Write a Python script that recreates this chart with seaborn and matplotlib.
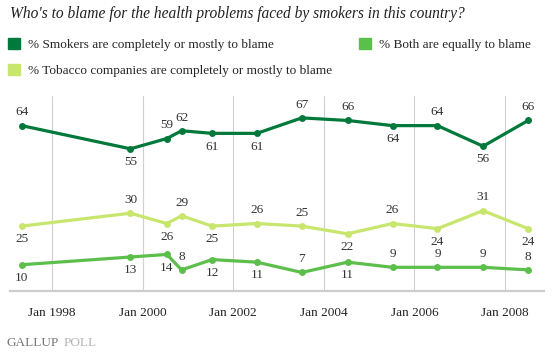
import pandas as pd
import numpy as np
import seaborn as sns
import matplotlib.pyplot as plt
import matplotlib.dates as mdates
from matplotlib.patches import Patch

# dados
datas = ['1997-05-01', '1999-09-25', '2000-07-15', '2000-11-10', '2001-07-15',
         '2002-07-10', '2003-07-08', '2004-07-10', '2005-07-08', '2006-07-05',
         '2007-07-08', '2008-07-05']
fumantes = [64, 55, 59, 62, 61, 61, 67, 66, 64, 64, 56, 66]
tabaco = [25, 30, 26, 29, 25, 26, 25, 22, 26, 24, 31, 24]
ambos = [10, 13, 14, 8, 12, 11, 7, 11, 9, 9, 9, 8]

# posição dos rótulos: +1 acima, -1 abaixo
pos_fumantes = [1, -1, 1, 1, -1, -1, 1, 1, -1, 1, -1, 1]
pos_tabaco = [-1, 1, -1, 1, -1, 1, 1, -1, 1, -1, 1, -1]
pos_ambos = [-1, -1, -1, 1, -1, -1, 1, -1, 1, 1, 1, 1]

nomes = ['% Smokers are completely or mostly to blame',
         '% Tobacco companies are completely or mostly to blame',
         '% Both are equally to blame']
cores = ['#00793A', '#C8E66E', '#5DBF4B']
anos_ticks = [1998, 2000, 2002, 2004, 2006, 2008]

df = pd.DataFrame({
    'data': pd.to_datetime(datas * 3),
    'valor': fumantes + tabaco + ambos,
    'serie': [nomes[0]] * 12 + [nomes[1]] * 12 + [nomes[2]] * 12,
    'pos': pos_fumantes + pos_tabaco + pos_ambos,
})

sns.set_style('white')
plt.rcParams['font.family'] = ['Liberation Serif', 'DejaVu Serif']

fig = plt.figure(figsize=(5.54, 3.52), dpi=100)
ax = fig.add_axes([9.5 / 554, 1 - 290.5 / 352, (544 - 9.5) / 554, (290.5 - 96) / 352])

# linhas de grade verticais
for a in anos_ticks:
    ax.axvline(pd.Timestamp(f'{a}-01-01'), color='#d0d0d0', lw=0.8, zorder=0)

sns.lineplot(data=df, x='data', y='valor', hue='serie', hue_order=nomes,
             palette=cores, marker='o', markersize=5, markeredgewidth=0,
             linewidth=2.3, legend=False, ax=ax, zorder=3)

for _, r in df.iterrows():
    ax.annotate(str(r['valor']), (r['data'], r['valor']),
                xytext=(0, 9.5 * r['pos']), textcoords='offset points',
                ha='center', va='center', fontsize=9.5, color='#333333')

ax.set_xlim(pd.Timestamp('1997-01-23'), pd.Timestamp('2008-11-10'))
ax.set_ylim(0, 75.5)
ax.set_yticks([])
ax.set_xticks([pd.Timestamp(f'{a}-01-01') for a in anos_ticks])
ax.xaxis.set_major_formatter(mdates.DateFormatter('Jan %Y'))
ax.tick_params(axis='x', length=0, pad=12, labelsize=9.5, labelcolor='#222222')
ax.set_xlabel('')
ax.set_ylabel('')
for s in ['top', 'left', 'right']:
    ax.spines[s].set_visible(False)
ax.spines['bottom'].set_color('#cccccc')
ax.spines['bottom'].set_linewidth(1.6)

fig.text(10 / 554, 1 - 14 / 352, "Who's to blame for the health problems faced by smokers in this country?",
         fontsize=11.2, style='italic', va='center', ha='left', color='#222222')

handles = [Patch(color=c) for c in cores]
fig.legend(handles, nomes, ncol=2, loc='upper left', bbox_to_anchor=(-4 / 554, 1 - 26 / 352),
           frameon=False, fontsize=9.5, handlelength=0.9, handleheight=0.9,
           handletextpad=0.6, labelspacing=1.0, columnspacing=2.05)

fig.text(7 / 554, 1 - 343 / 352, 'GALLUP', fontsize=9.5, color='#777777', va='center', ha='left')
fig.text(64 / 554, 1 - 343 / 352, 'POLL', fontsize=9.5, color='#b5b5b5', va='center', ha='left')

fig.savefig('out.png', dpi=100)
